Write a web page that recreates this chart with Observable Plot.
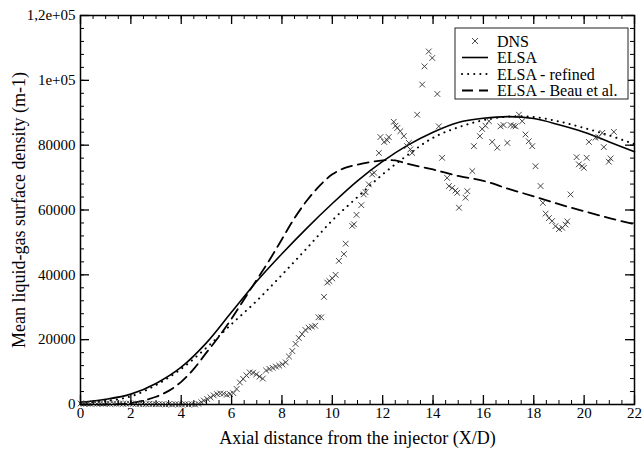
<!DOCTYPE html>
<html><head><meta charset="utf-8">
<script src="https://cdn.jsdelivr.net/npm/d3@7"></script>
<script src="https://cdn.jsdelivr.net/npm/@observablehq/plot@0.6"></script>
<style>body{margin:0;background:#fff} svg text{font-family:'Liberation Serif',serif !important;}</style>
</head><body><div id="chart"></div>
<script>
// ---- data ----
const xTicks = [0,2,4,6,8,10,12,14,16,18,20,22];
const yTicks = [0,20000,40000,60000,80000,100000,120000];
const yTickLabels = ["0","20000","40000","60000","80000","1e+05","1,2e+05"];
const xLabel = "Axial distance from the injector (X/D)";
const yLabel = "Mean liquid-gas surface density (m-1)";
const seriesNames = ["DNS","ELSA","ELSA - refined","ELSA - Beau et al."];

const elsaX = [0,1,2,3,4,5,6,7,8,9,10,11,12,13,14,15,16,17,18,19,20,21,22];
const elsaY = [700,1600,3200,6500,11500,19000,28500,38000,46500,54500,62000,69000,75000,80000,84000,87000,88300,88800,88200,86300,84000,81000,78000];
const refinedY = [400,1100,2500,6000,11000,17500,24800,32000,40000,48300,56800,64000,71000,77000,82300,85500,87700,88800,88700,87300,85300,83000,80300];
const beauX = [0,1,1.5,2,2.5,3,3.5,4,4.5,5,5.5,6,6.5,7,7.5,8,8.5,9,9.5,10,10.5,11,12,12.5,13,14,15,16,17,18,19,20,21,22];
const beauY = [0,0,100,400,1200,2400,4200,7000,11000,16000,21000,26500,32500,38500,44500,51000,57500,63000,67500,71000,73000,74000,75300,75300,74200,72500,70500,69000,66500,64200,61800,59600,57500,55600];

const dns = [
[0,300],[0.13,200],[0.26,300],[0.39,200],[0.52,300],[0.65,200],[0.78,300],[0.91,200],[1.04,300],[1.17,200],
[1.3,300],[1.43,200],[1.56,300],[1.69,200],[1.82,200],[1.95,300],[2.08,200],[2.21,200],[2.34,100],[2.47,200],
[2.6,100],[2.73,200],[2.86,100],[2.99,100],[3.12,100],[3.25,100],[3.38,0],[3.51,100],[3.64,0],[3.77,100],
[3.9,0],[4.03,0],[4.16,100],[4.29,0],[4.42,100],[4.55,0],[4.68,200],
[4.8,700],[4.9,1200],[5.03,1700],[5.16,2200],[5.29,2800],[5.42,3200],[5.55,3400],[5.68,3300],[5.81,3000],[5.94,3200],
[6.07,3500],[6.2,4800],[6.33,6800],[6.46,7900],[6.59,9000],[6.72,9900],[6.85,9800],[6.98,9300],[7.11,8600],[7.24,8000],
[7.37,10500],[7.5,11000],[7.63,11300],[7.76,11700],[7.89,12000],[8.02,12400],[8.15,13000],[8.28,14800],[8.41,16500],[8.54,18700],
[8.67,20500],[8.8,21700],[8.93,23000],[9.06,23700],[9.19,24000],[9.32,24300],[9.45,26900],[9.56,26900],[9.67,33200],[9.8,37600],
[9.88,38100],[10.0,38900],[10.13,40000],[10.26,44300],[10.46,46400],[10.53,49600],[10.79,55100],[10.86,55600],[10.96,58500],[11.15,61500],
[11.25,64800],[11.32,65500],[11.45,67900],[11.58,71000],[11.66,71500],[11.85,77600],[11.91,82500],[12.06,81000],[12.18,81500],[12.24,82500],
[12.44,87200],[12.51,86000],[12.58,85300],[12.7,84300],[12.84,82800],[12.97,79700],[13.04,80700],[13.1,78700],[13.17,77600],[13.37,89400],
[13.57,98700],[13.66,104300],[13.83,108900],[13.97,106900],[14.17,95800],[14.23,85800],[14.36,76100],[14.56,69900],[14.63,67400],[14.76,66800],
[14.89,66000],[14.96,65300],[15.03,60700],[15.29,63800],[15.36,65800],[15.56,72000],[15.62,79700],[15.86,82800],[15.95,85000],[16.08,86000],
[16.22,87400],[16.35,81000],[16.55,79200],[16.68,85800],[16.8,86200],[16.95,80700],[17.08,86200],[17.2,86000],[17.28,85800],[17.41,89400],
[17.54,87400],[17.67,83300],[17.8,81200],[17.94,79700],[18.07,73500],[18.27,67400],[18.36,62200],[18.47,58900],[18.6,57500],[18.73,56600],
[18.86,55000],[19.0,54100],[19.13,54500],[19.26,55500],[19.33,56500],[19.46,64800],[19.7,76300],[19.79,74100],[19.92,73500],[19.99,73000],
[20.1,76100],[20.19,81000],[20.45,82300],[20.57,82500],[20.72,83800],[20.78,79400],[20.98,74900],[21.05,75900],[21.18,84100]
];

// ---- layout ----
const W = 644, H = 451, mL = 80, mR = 10, mT = 15, mB = 47;
const pw = W - mL - mR, ph = H - mT - mB;
const xMinor = d3.range(0, 22.001, 0.5);
const yMinor = d3.range(0, 120001, 4000);
const font = "'Liberation Serif', serif";

const elsa = elsaX.map((x, i) => ({x, y: elsaY[i]}));
const refined = elsaX.map((x, i) => ({x, y: refinedY[i]}));
const beau = beauX.map((x, i) => ({x, y: beauY[i]}));

const chart = Plot.plot({
  width: W, height: H,
  marginLeft: mL, marginRight: mR, marginTop: mT, marginBottom: mB,
  style: {fontFamily: font, fontSize: "15px", color: "black", background: "white"},
  x: {domain: [0, 22]},
  y: {domain: [0, 120000]},
  marks: [
    Plot.line(elsa, {x: "x", y: "y", stroke: "black", strokeWidth: 1.6, curve: "catmull-rom"}),
    Plot.line(refined, {x: "x", y: "y", stroke: "black", strokeWidth: 2, strokeDasharray: "0.1,6", strokeLinecap: "round", curve: "catmull-rom"}),
    Plot.line(beau, {x: "x", y: "y", stroke: "black", strokeWidth: 1.8, strokeDasharray: "11,6", curve: "catmull-rom"}),
    Plot.dot(dns, {x: d => d[0], y: d => d[1], symbol: "times", r: 2.7, stroke: "#333", strokeWidth: 0.9}),
    // inward ticks on all four sides
    Plot.tickX(xMinor, {x: d => d, insetTop: ph - 4, stroke: "black"}),
    Plot.tickX(xMinor, {x: d => d, insetBottom: ph - 4, stroke: "black"}),
    Plot.tickX(xTicks, {x: d => d, insetTop: ph - 9, stroke: "black", strokeWidth: 1.3}),
    Plot.tickX(xTicks, {x: d => d, insetBottom: ph - 9, stroke: "black", strokeWidth: 1.3}),
    Plot.tickY(yMinor, {y: d => d, insetRight: pw - 4, stroke: "black"}),
    Plot.tickY(yMinor, {y: d => d, insetLeft: pw - 4, stroke: "black"}),
    Plot.tickY(yTicks, {y: d => d, insetRight: pw - 9, stroke: "black", strokeWidth: 1.3}),
    Plot.tickY(yTicks, {y: d => d, insetLeft: pw - 9, stroke: "black", strokeWidth: 1.3}),
    Plot.frame({stroke: "black", strokeWidth: 1.5}),
    Plot.axisX({ticks: xTicks, tickSize: 0, tickPadding: 3, label: null, fontSize: 15}),
    Plot.axisY({ticks: yTicks, tickFormat: d => yTickLabels[yTicks.indexOf(d)], tickSize: 0, tickPadding: 5, label: null, fontSize: 15}),
    Plot.text([xLabel], {text: d => d, frameAnchor: "bottom", lineAnchor: "middle", textAnchor: "middle", dy: 34, fontSize: 18, fontFamily: font}),
    Plot.text([yLabel], {text: d => d, frameAnchor: "left", lineAnchor: "middle", textAnchor: "middle", rotate: -90, dx: -61, fontSize: 18, fontFamily: font})
  ]
});

// ---- legend overlay ----
const svg = d3.select(chart);
const lg = svg.append("g").attr("font-family", font).attr("font-size", 16).attr("text-anchor", "start");
const bx = 455, by = 28, bw = 173, bh = 71;
lg.append("rect").attr("x", bx).attr("y", by).attr("width", bw).attr("height", bh)
  .attr("fill", "white").attr("stroke", "#222").attr("stroke-width", 1);
const rowY = i => by + 13 + i * 16.5;
const styles = [null, {da: null, w: 1.6}, {da: "0.1,6", w: 2, cap: "round"}, {da: "11,6", w: 1.8}];
seriesNames.forEach((name, i) => {
  const y = rowY(i);
  if (i === 0) {
    const s = 3;
    lg.append("path").attr("d", `M${475 - s},${y - s}L${475 + s},${y + s}M${475 - s},${y + s}L${475 + s},${y - s}`)
      .attr("stroke", "#333").attr("stroke-width", 0.9);
  } else {
    const st = styles[i];
    const l = lg.append("line").attr("x1", 462).attr("x2", 488).attr("y1", y).attr("y2", y)
      .attr("stroke", "black").attr("stroke-width", st.w);
    if (st.da) l.attr("stroke-dasharray", st.da);
    if (st.cap) l.attr("stroke-linecap", st.cap);
  }
  lg.append("text").attr("x", 497).attr("y", y).attr("dy", "0.35em").attr("text-anchor", "start").text(name);
});

document.getElementById("chart").appendChild(chart);
</script>
</body></html>
